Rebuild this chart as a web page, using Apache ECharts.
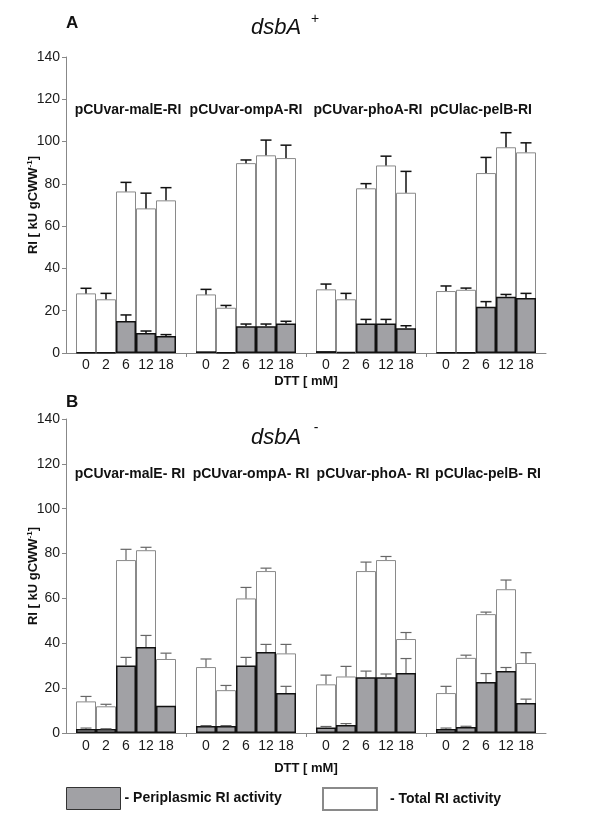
<!DOCTYPE html>
<html><head><meta charset="utf-8">
<script src="https://cdn.jsdelivr.net/npm/echarts@6/dist/echarts.min.js"></script>
<style>html,body{margin:0;padding:0;background:#fff}#c{width:600px;height:816px}</style>
</head><body><div id="c"></div>
<script>
// ---- data ----
const dttLabels = ['0', '2', '6', '12', '18'];
const constructsA = ['pCUvar-malE-RI', 'pCUvar-ompA-RI', 'pCUvar-phoA-RI', 'pCUlac-pelB-RI'];
const constructsB = ['pCUvar-malE- RI', 'pCUvar-ompA- RI', 'pCUvar-phoA- RI', 'pCUlac-pelB- RI'];
const yTicks = [0, 20, 40, 60, 80, 100, 120, 140];
// Panel A (dsbA+): 4 constructs x 5 DTT concentrations
const totalA    = [28.2, 25.4, 76.4, 68.4, 72.2,  27.7, 21.4, 89.8, 93.5, 92.2,  30.1, 25.4, 77.9, 88.7, 75.8,  29.3, 29.9, 85.1, 97.3, 94.9];
const totalErrA = [2.4, 2.8, 4.3, 7.2, 6.0,  2.4, 1.1, 1.5, 7.2, 6.1,  2.5, 2.8, 2.2, 4.4, 10.1,  2.4, 0.8, 7.4, 6.9, 4.5];
const periA     = [0.3, 0.3, 15.1, 9.5, 8.0,  0.8, 0.3, 12.6, 12.6, 13.9,  0.9, 0.5, 14.0, 14.0, 11.7,  0.3, 0.3, 21.9, 26.6, 26.0];
const periErrA  = [0, 0, 2.9, 0.9, 0.7,  0, 0, 1.1, 1.1, 1.1,  0, 0, 1.9, 1.9, 1.2,  0, 0, 2.4, 1.1, 2.2];
// Panel B (dsbA-)
const totalB    = [14.1, 11.9, 77.1, 81.5, 33.0,  29.4, 19.1, 60.0, 72.2, 35.5,  21.7, 25.2, 72.2, 77.1, 41.9,  17.8, 33.5, 53.0, 64.1, 31.2];
const totalErrB = [2.2, 0.9, 4.8, 1.3, 2.6,  3.6, 2.1, 4.9, 1.3, 4.0,  4.1, 4.5, 4.0, 1.6, 2.9,  3.0, 1.2, 0.9, 4.1, 4.6];
const periB     = [1.8, 1.8, 30.1, 38.3, 12.2,  3.1, 3.1, 30.1, 36.1, 17.8,  2.4, 3.6, 24.9, 24.9, 26.7,  1.8, 2.7, 22.7, 27.6, 13.4];
const periErrB  = [0.4, 0.1, 3.6, 5.2, 0,  0.2, 0.2, 3.6, 3.4, 3.0,  0.5, 0.6, 2.7, 1.4, 6.5,  0.4, 0.3, 3.8, 1.6, 1.7];

// ---- helpers ----
const FONT = "'Liberation Sans', Arial, Helvetica, sans-serif";
const nPerGroup = dttLabels.length;
const slot = k => Math.floor(k / nPerGroup) * (nPerGroup + 1) + 1 + (k % nPerGroup);
const nGroups = constructsA.length;
const xMax = nGroups * (nPerGroup + 1);
const labelVals = [], tickVals = [];
for (let k = 0; k < nGroups * nPerGroup; k++) labelVals.push(slot(k));
for (let g = 1; g < nGroups; g++) tickVals.push(g * (nPerGroup + 1));

const pts = arr => arr.map((v, k) => [slot(k), v]);
const errPts = (vals, errs) => vals.map((v, k) => [slot(k), v, errs[k]]);

const GRAY = '#a1a1a5';
const TOTAL_BORDER = '#8a8a8a';

function errSeries(idx, vals, errs, color, lw, z) {
  return {
    type: 'custom', xAxisIndex: idx, yAxisIndex: idx, z: z, silent: true, clip: false,
    data: errPts(vals, errs),
    renderItem: function (params, api) {
      const x = api.value(0), v = api.value(1), e = api.value(2);
      if (!e) return null;
      const p0 = api.coord([x, v]);
      const p1 = api.coord([x, v + e]);
      const cw = 5.5;
      return {
        type: 'group', children: [
          { type: 'line', shape: { x1: p0[0], y1: p0[1], x2: p1[0], y2: p1[1] }, style: { stroke: color, lineWidth: lw } },
          { type: 'line', shape: { x1: p1[0] - cw, y1: p1[1], x2: p1[0] + cw, y2: p1[1] }, style: { stroke: color, lineWidth: lw } }
        ]
      };
    }
  };
}

function xAxisCfg(idx, labelMargin) {
  return {
    type: 'value', gridIndex: idx, min: 0, max: xMax,
    splitLine: { show: false },
    axisLine: { show: true, lineStyle: { color: '#888', width: 1 } },
    axisTick: { show: true, customValues: tickVals, length: 4, lineStyle: { color: '#888' } },
    axisLabel: {
      customValues: labelVals, margin: labelMargin, fontSize: 14, color: '#1a1a1a', fontFamily: FONT,
      formatter: v => dttLabels[(Math.round(v) % (nPerGroup + 1)) - 1]
    }
  };
}
function yAxisCfg(idx) {
  return {
    type: 'value', gridIndex: idx, min: yTicks[0], max: yTicks[yTicks.length - 1], interval: yTicks[1] - yTicks[0],
    splitLine: { show: false },
    axisLine: { show: true, lineStyle: { color: '#888', width: 1 } },
    axisTick: { show: true, length: 4, lineStyle: { color: '#888' } },
    axisLabel: { fontSize: 14, color: '#1a1a1a', margin: 6, fontFamily: FONT },
    name: 'RI [ kU gCWW{sup|-1}]', nameLocation: 'middle', nameRotate: 90, nameGap: 26, nameMoveOverlap: false,
    nameTextStyle: {
      fontSize: 13, fontWeight: 'bold', color: '#111', fontFamily: FONT,
      rich: { sup: { fontSize: 8, fontWeight: 'bold', color: '#111', fontFamily: FONT, verticalAlign: 'top', padding: [0, 0, 6, 0] } }
    }
  };
}

function barSeries(idx, name, vals, fill, border, bw, z) {
  return {
    type: 'bar', name: name, xAxisIndex: idx, yAxisIndex: idx, z: z,
    barWidth: 20, barGap: '-100%',
    data: pts(vals),
    itemStyle: { color: fill, borderColor: border, borderWidth: bw },
    emphasis: { disabled: true }, animation: false
  };
}

const txt = (x, y, text, font, align, extra) => Object.assign({
  type: 'text', x: x, y: y, silent: true,
  style: { text: text, font: font, fill: '#111', align: align || 'center', verticalAlign: 'middle' }
}, extra || {});

const groupCentersA = [128, 246, 368, 481];
const groupCentersB = [130, 251, 373, 488];

const graphics = [
  txt(66, 23, 'A', "bold 17px " + FONT, 'left'),
  txt(276, 28, 'dsbA', "italic 22px " + FONT),
  txt(315, 19, '+', "14px " + FONT),
  txt(66, 402, 'B', "bold 17px " + FONT, 'left'),
  txt(276, 438, 'dsbA', "italic 22px " + FONT),
  txt(316, 428, '-', "14px " + FONT),
  txt(306, 381, 'DTT [ mM]', "bold 13px " + FONT),
  txt(306, 768, 'DTT [ mM]', "bold 13px " + FONT)
];
constructsA.forEach((c, g) => graphics.push(txt(groupCentersA[g], 110, c, "bold 14px " + FONT)));
constructsB.forEach((c, g) => graphics.push(txt(groupCentersB[g], 474, c, "bold 14px " + FONT)));

const chart = echarts.init(document.getElementById('c'), null, { renderer: 'canvas' });
chart.setOption({
  animation: false,
  backgroundColor: '#fff',
  textStyle: { fontFamily: FONT },
  grid: [
    { left: 66, right: 54, top: 57, height: 296 },
    { left: 66, right: 54, top: 419, height: 314 }
  ],
  xAxis: [xAxisCfg(0, 5), xAxisCfg(1, 6)],
  yAxis: [yAxisCfg(0), yAxisCfg(1)],
  legend: [
    { left: 66, top: 787, padding: 0, icon: 'rect', itemWidth: 54, itemHeight: 22, itemGap: 0, selectedMode: false,
      data: ['Periplasmic RI activity'], formatter: '- {name}',
      itemStyle: { borderWidth: 1, borderColor: '#333' },
      textStyle: { fontSize: 14, fontWeight: 'bold', color: '#111', fontFamily: FONT, padding: [0, 0, 0, -1] } },
    { left: 322, top: 787, padding: 0, icon: 'rect', itemWidth: 54, itemHeight: 22, itemGap: 0, selectedMode: false,
      data: ['Total RI activity'], formatter: '- {name}',
      textStyle: { fontSize: 14, fontWeight: 'bold', color: '#111', fontFamily: FONT, padding: [0, 0, 0, 8] } }
  ],
  series: [
    barSeries(0, 'Total RI activity', totalA, '#fff', TOTAL_BORDER, 1, 2),
    errSeries(0, totalA, totalErrA, '#111', 1.5, 3),
    barSeries(0, 'Periplasmic RI activity', periA, GRAY, '#111', 1.5, 4),
    errSeries(0, periA, periErrA, '#111', 1.5, 5),
    barSeries(1, 'Total RI activity', totalB, '#fff', TOTAL_BORDER, 1, 2),
    errSeries(1, totalB, totalErrB, '#666', 1.2, 3),
    barSeries(1, 'Periplasmic RI activity', periB, GRAY, '#111', 1.5, 4),
    errSeries(1, periB, periErrB, '#666', 1.2, 5)
  ],
  graphic: graphics
});
</script>
</body></html>
